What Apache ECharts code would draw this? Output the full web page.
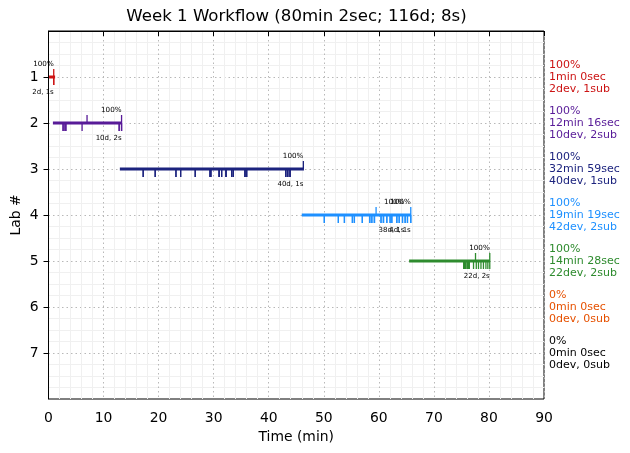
<!DOCTYPE html>
<html><head><meta charset="utf-8">
<script src="https://cdn.jsdelivr.net/npm/echarts@6/dist/echarts.min.js"></script>
<style>html,body{margin:0;padding:0;background:#fff}#c{width:630px;height:453px}</style>
</head><body><div id="c"></div>
<script>
const chartTitle = 'Week 1 Workflow (80min 2sec; 116d; 8s)';
const labs = [1, 2, 3, 4, 5, 6, 7];
const starts = [0.1, 0.8, 12.96, 46.0, 65.5, null, null];
const ends = [1.2, 13.3, 46.4, 65.85, 80.2, null, null];
const devTimes = [
  [0.95, 0.95],
  [2.65, 2.65, 2.96, 3.15, 3.15, 6.1, 12.84, 12.84, 13.27, 13.27],
  [17.2, 17.2, 19.38, 19.38, 23.15, 23.15, 24.0, 24.0, 26.65, 26.65,
   29.33, 29.33, 29.5, 29.5, 31.0, 31.0, 31.0, 31.45, 31.45, 32.24,
   32.24, 32.24, 33.27, 33.27, 33.56, 33.56, 35.69, 35.69, 35.69, 36.0,
   36.0, 43.09, 43.09, 43.09, 43.45, 43.45, 43.45, 43.87, 43.87, 43.87],
  [50.1, 50.1, 52.65, 52.65, 53.75, 53.75, 55.2, 55.2, 55.56, 55.56,
   57.0, 57.0, 58.36, 58.36, 58.73, 58.73, 59.2, 59.2, 60.4, 60.4,
   60.84, 60.84, 61.45, 61.45, 62.05, 62.05, 62.36, 62.36, 63.27, 63.27,
   63.7, 63.7, 64.3, 64.3, 64.78, 64.78, 65.2, 65.2, 65.8, 65.8,
   59.2, 60.84],
  [75.4, 75.4, 75.6, 75.6, 75.75, 75.75, 76.05, 76.05, 76.2, 76.2,
   76.4, 76.4, 76.4, 76.4, 77.2, 77.7, 78.1, 78.55, 79.0, 79.45,
   79.8, 80.15],
  [],
  []
];
const subTimes = [[0.95], [7.0, 13.27], [46.29], [59.5, 65.8], [77.56, 80.15], [], []];
const markX = [[0.95], [13.27], [46.29], [64.65, 65.8], [80.15], [], []];
const markPct = [['100%'], ['100%'], ['100%'], ['100%', '100%'], ['100%'], [], []];
const markCounts = [['2d, 1s'], ['10d, 2s'], ['40d, 1s'], ['38d, 1s', '4d, 1s'], ['22d, 2s'], [], []];
const sumPct = ['100%', '100%', '100%', '100%', '100%', '0%', '0%'];
const sumTime = ['1min 0sec', '12min 16sec', '32min 59sec', '19min 19sec', '14min 28sec', '0min 0sec', '0min 0sec'];
const sumCounts = ['2dev, 1sub', '10dev, 2sub', '40dev, 1sub', '42dev, 2sub', '22dev, 2sub', '0dev, 0sub', '0dev, 0sub'];
const rowColors = ['#cc1414', '#581b98', '#1c237e', '#1e90ff', '#2e8b2e', '#e65100', '#000000'];
const xTicks = [0, 10, 20, 30, 40, 50, 60, 70, 80, 90];
const yTicks = [1, 2, 3, 4, 5, 6, 7];

const FONT = 'DejaVu Sans';
const chart = echarts.init(document.getElementById('c'), null, {renderer: 'canvas'});

function renderRow(params, api) {
  const i = params.dataIndex;
  const lab = api.value(0);
  const col = rowColors[i];
  const children = [];
  const TL = 8;
  if (starts[i] !== null) {
    const p0 = api.coord([starts[i], lab]);
    const p1 = api.coord([ends[i], lab]);
    children.push({type: 'line', shape: {x1: p0[0], y1: p0[1], x2: p1[0], y2: p1[1]},
      style: {stroke: col, lineWidth: 3}});
    devTimes[i].forEach(t => {
      const p = api.coord([t, lab]);
      children.push({type: 'line', shape: {x1: p[0], y1: p[1], x2: p[0], y2: p[1] + TL},
        style: {stroke: col, lineWidth: 1.3}});
    });
    subTimes[i].forEach(t => {
      const p = api.coord([t, lab]);
      children.push({type: 'line', shape: {x1: p[0], y1: p[1] - TL, x2: p[0], y2: p[1]},
        style: {stroke: col, lineWidth: 1.3}});
    });
    markX[i].forEach((t, k) => {
      const p = api.coord([t, lab]);
      children.push({type: 'text', style: {text: markPct[i][k], x: p[0], y: p[1] - 13,
        align: 'right', verticalAlign: 'middle', fill: '#000', fontSize: 7.2, fontFamily: FONT}});
      children.push({type: 'text', style: {text: markCounts[i][k], x: p[0], y: p[1] + 15,
        align: 'right', verticalAlign: 'middle', fill: '#000', fontSize: 7, fontFamily: FONT}});
    });
  }
  const pr = api.coord([90, lab]);
  children.push({type: 'text', style: {
    text: sumPct[i] + '\n' + sumTime[i] + '\n' + sumCounts[i],
    x: pr[0] + 5, y: pr[1], align: 'left', verticalAlign: 'middle',
    fill: col, fontSize: 11, lineHeight: 12, fontFamily: FONT}});
  return {type: 'group', children};
}

const option = {
  animation: false,
  backgroundColor: '#fff',
  title: {text: chartTitle, left: 296.5, textAlign: 'center', top: 8, padding: 0,
    textStyle: {fontFamily: FONT, fontSize: 16.6, fontWeight: 'normal', color: '#000'}},
  grid: {left: 48.5, right: 86, top: 31, bottom: 54, outerBoundsMode: 'none', containLabel: false,
    show: true, borderColor: '#000', borderWidth: 1, backgroundColor: 'transparent'},
  xAxis: {
    type: 'value', min: 0, max: 90, interval: 10,
    name: 'Time (min)', nameLocation: 'middle', nameGap: 30,
    nameTextStyle: {fontFamily: FONT, fontSize: 13.9, color: '#000'},
    axisLine: {show: true, lineStyle: {color: '#000', width: 1}},
    axisTick: {show: true, inside: false, length: 5, lineStyle: {color: '#000'}, customValues: xTicks},
    axisLabel: {fontFamily: FONT, fontSize: 13.9, color: '#000', margin: 12, customValues: xTicks},
    splitLine: {show: true, lineStyle: {color: '#b8b8b8', type: [1.5, 3], width: 1}},
    minorTick: {show: false, splitNumber: 5},
    minorSplitLine: {show: true, lineStyle: {color: '#f0f0f0', width: 1}}
  },
  yAxis: {
    type: 'value', min: 0, max: 8, interval: 1, inverse: true,
    name: 'Lab #', nameLocation: 'middle', nameGap: 25, nameRotate: 90, nameMoveOverlap: false,
    nameTextStyle: {fontFamily: FONT, fontSize: 13.9, color: '#000'},
    axisLine: {show: true, lineStyle: {color: '#000', width: 1}},
    axisTick: {show: true, inside: false, length: 5, lineStyle: {color: '#000'}, customValues: yTicks},
    axisLabel: {fontFamily: FONT, fontSize: 13.9, color: '#000', margin: 10, customValues: yTicks},
    splitLine: {show: true, lineStyle: {color: '#b8b8b8', type: [1.5, 3], width: 1}},
    minorTick: {show: false, splitNumber: 4},
    minorSplitLine: {show: true, lineStyle: {color: '#f0f0f0', width: 1}}
  },
  series: [{
    type: 'custom', clip: false,
    data: labs.map(l => [l]),
    encode: {y: 0},
    renderItem: renderRow
  }]
};
chart.setOption(option);
</script>
</body></html>
